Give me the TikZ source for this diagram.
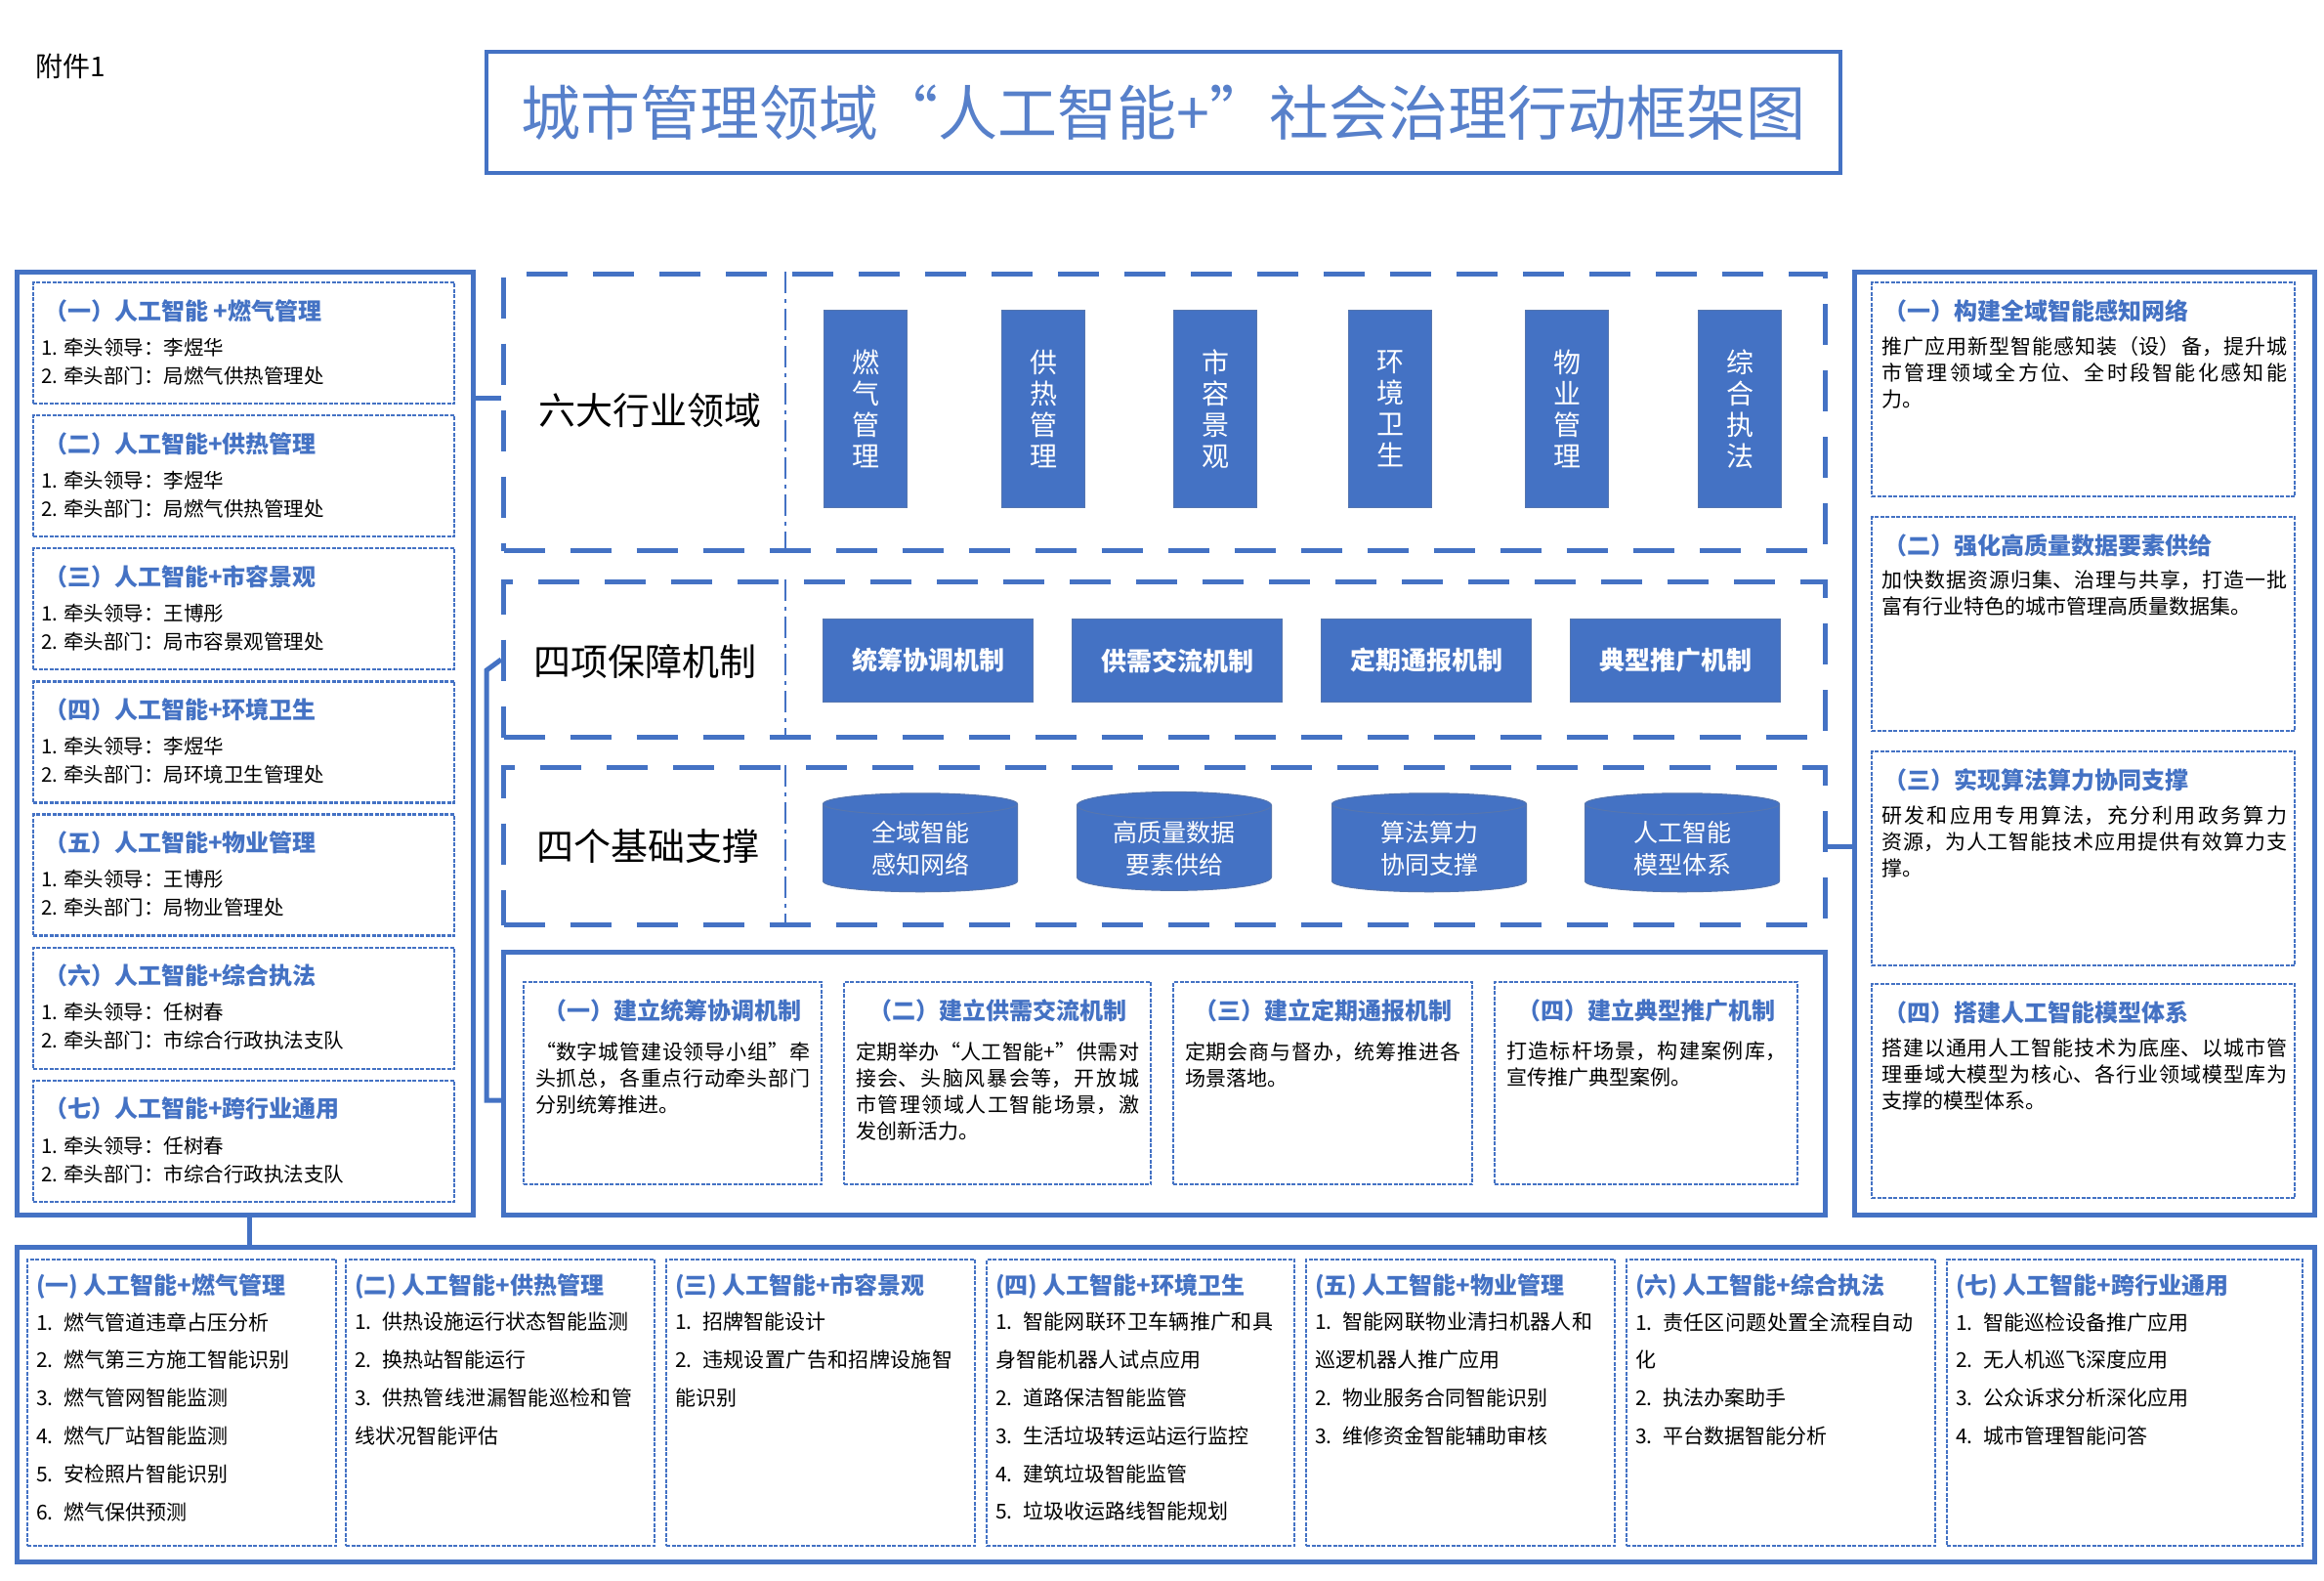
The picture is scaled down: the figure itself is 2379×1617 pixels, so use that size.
\documentclass[tikz,border=0pt]{standalone}
\usepackage{fontspec}
\setmainfont{Noto Sans CJK SC}
\XeTeXlinebreaklocale "zh"
\XeTeXlinebreakskip=0pt plus 1pt
\usetikzlibrary{shapes.geometric}
\definecolor{bl}{HTML}{4472C4}
\begin{document}
\begin{tikzpicture}[x=1pt,y=-1pt,
 outer/.style={draw=bl,line width=5pt},
 bigdash/.style={draw=bl,line width=5pt,dash pattern=on 42pt off 26pt},
 fdash/.style={draw=bl,line width=2.2pt,dash pattern=on 4pt off 1.5pt},
 vrect/.style={fill=bl,draw=bl!70!gray,line width=1pt,minimum width=85pt,minimum height=202pt,text=white,font=\fontsize{28}{32}\selectfont,align=center,inner sep=0pt},
 hrect/.style={fill=bl,draw=bl!70!gray,line width=1pt,minimum width=215pt,minimum height=85pt,text=white,font=\fontsize{26}{30}\selectfont\bfseries,inner sep=0pt},
 cyl/.style={cylinder,shape border rotate=90,aspect=0.22,fill=bl,draw=bl!70!gray,line width=1pt,minimum width=199pt,minimum height=101pt,text=white,font=\fontsize{25}{33}\selectfont,align=center,inner sep=0pt},
 secl/.style={font=\fontsize{38}{40}\selectfont},
 ttl/.style={text=bl,font=\fontsize{24}{28}\selectfont\bfseries},
 bod/.style={font=\fontsize{20.5}{29}\selectfont,align=left,inner sep=0pt},
 rbod/.style={font=\fontsize{21}{27}\selectfont,align=justify,inner sep=0pt,text width=415pt},
 mbod/.style={font=\fontsize{21}{27}\selectfont,align=justify,inner sep=0pt},
 cbod/.style={font=\fontsize{21}{38.8}\selectfont,align=left,inner sep=0pt},
]
\useasboundingbox[fill=white] (0,0) rectangle (2379,1617);
\node[anchor=west,font=\fontsize{28}{30}\selectfont,inner sep=0pt] (fj) at (36,68) {附件1};
\node[draw=bl,line width=4.5pt,minimum width=1386pt,minimum height=124pt,text=bl!90!white,font=\fontsize{61}{64}\selectfont] (title) at (1191,115) {城市管理领域“人工智能+”社会治理行动框架图};

% left
\node[outer,minimum width=467pt,minimum height=965pt,anchor=north west] (L) at (15,276) {};
\foreach \i/\t/\a/\b in {0/（一）人工智能 +燃气管理/李煜华/局燃气供热管理处,1/（二）人工智能+供热管理/李煜华/局燃气供热管理处,2/（三）人工智能+市容景观/王博彤/局市容景观管理处,3/（四）人工智能+环境卫生/李煜华/局环境卫生管理处,4/（五）人工智能+物业管理/王博彤/局物业管理处,5/（六）人工智能+综合执法/任树春/市综合行政执法支队,6/（七）人工智能+跨行业通用/任树春/市综合行政执法支队}{
 \pgfmathsetmacro\yy{288+\i*136.1}
 \node[fdash,minimum width=431pt,minimum height=124pt,anchor=north west] (l\i) at (33,\yy) {};
 \node[ttl,anchor=west,inner sep=0pt] (lt\i) at (45,\yy+30) {\t};
 \node[bod,anchor=north west] (lb\i) at (42,\yy+58) {1. 牵头领导：\a\\2. 牵头部门：\b};
}

% six
\node[bigdash,minimum width=1353pt,minimum height=283pt,anchor=north west] (six) at (513,278) {};
\draw[draw=bl,line width=2.5pt,dash pattern=on 22pt off 6pt on 4pt off 6pt] (six.north west -| 804,0) coordinate (d1) -- (six.south west -| 804,0) coordinate (d2);
\node[secl] (sixl) at (665,420) {六大行业领域};
\foreach \x/\t [count=\k] in {843/燃\\气\\管\\理,1025/供\\热\\管\\理,1201/市\\容\\景\\观,1380/环\\境\\卫\\生,1561/物\\业\\管\\理,1738/综\\合\\执\\法}
 \node[vrect,anchor=north west] (v\k) at (\x,317) {\t};

% four
\node[bigdash,minimum width=1353pt,minimum height=159pt,anchor=north west] (four) at (513,593) {};
\draw[draw=bl,line width=2.5pt,dash pattern=on 22pt off 6pt on 4pt off 6pt] (four.north west -| 804,0) -- (four.south west -| 804,0);
\node[secl] (fourl) at (660,677) {四项保障机制};
\foreach \x/\t [count=\k] in {842/统筹协调机制,1097/供需交流机制,1352/定期通报机制,1607/典型推广机制}
 \node[hrect,anchor=north west] (h\k) at (\x,633) {\t};

% base
\node[bigdash,minimum width=1353pt,minimum height=161pt,anchor=north west] (base) at (513,783) {};
\draw[draw=bl,line width=2.5pt,dash pattern=on 22pt off 6pt on 4pt off 6pt] (base.north west -| 804,0) -- (base.south west -| 804,0);
\node[secl] (basel) at (663,866) {四个基础支撑};
\foreach \x/\t [count=\k] in {942/全域智能\\感知网络,1202/高质量数据\\要素供给,1463/算法算力\\协同支撑,1722/人工智能\\模型体系}
 \node[cyl] (c\k) at (\x,868) {\t};

% mechanism
\node[outer,minimum width=1353pt,minimum height=269pt,anchor=north west] (mech) at (513,972) {};
\foreach \x/\w/\t/\b [count=\k] in {535/305/（一）建立统筹协调机制/“数字城管建设领导小组”牵头抓总，各重点行动牵头部门分别统筹推进。,863/314/（二）建立供需交流机制/定期举办“人工智能+”供需对接会、头脑风暴会等，开放城市管理领域人工智能场景，激发创新活力。,1200/306/（三）建立定期通报机制/定期会商与督办，统筹推进各场景落地。,1529/310/（四）建立典型推广机制/打造标杆场景，构建案例库，宣传推广典型案例。}{
 \pgfmathsetmacro\tw{\w-24}
 \node[fdash,minimum width=\w pt,minimum height=207pt,anchor=north west] (m\k) at (\x,1004) {};
 \node[ttl,anchor=north,inner sep=0pt] (mt\k) at ([yshift=-18pt]m\k.north) {\t};
 \node[mbod,text width=\tw pt,anchor=north] (mb\k) at ([yshift=-62pt]m\k.north) {\b};
}

% right
\node[outer,minimum width=471pt,minimum height=965pt,anchor=north west] (R) at (1896,276) {};
\foreach \y/\t/\b [count=\k] in {288/（一）构建全域智能感知网络/推广应用新型智能感知装（设）备，提升城市管理领域全方位、全时段智能化感知能力。,528/（二）强化高质量数据要素供给/加快数据资源归集、治理与共享，打造一批富有行业特色的城市管理高质量数据集。,768/（三）实现算法算力协同支撑/研发和应用专用算法，充分利用政务算力资源，为人工智能技术应用提供有效算力支撑。,1006/（四）搭建人工智能模型体系/搭建以通用人工智能技术为底座、以城市管理垂域大模型为核心、各行业领域模型库为支撑的模型体系。}{
 \node[fdash,minimum width=433pt,minimum height=219pt,anchor=north west] (r\k) at (1915,\y) {};
 \node[ttl,anchor=west,inner sep=0pt] (rt\k) at (1928,\y+30) {\t};
 \node[rbod,anchor=north west] (rb\k) at (1926,\y+56) {\b};
}

% bottom
\node[outer,minimum width=2352pt,minimum height=322pt,anchor=north west] (B) at (15,1274) {};
\foreach \x/\w/\t/\b [count=\k] in {
27/316/(一) 人工智能+燃气管理/{1. 燃气管道违章占压分析\\2. 燃气第三方施工智能识别\\3. 燃气管网智能监测\\4. 燃气厂站智能监测\\5. 安检照片智能识别\\6. 燃气保供预测},
353/316/(二) 人工智能+供热管理/{1. 供热设施运行状态智能监测\\2. 换热站智能运行\\3. 供热管线泄漏智能巡检和管线状况智能评估},
681/316/(三) 人工智能+市容景观/{1. 招牌智能设计\\2. 违规设置广告和招牌设施智能识别},
1009/315/(四) 人工智能+环境卫生/{1. 智能网联环卫车辆推广和具身智能机器人试点应用\\2. 道路保洁智能监管\\3. 生活垃圾转运站运行监控\\4. 建筑垃圾智能监管\\5. 垃圾收运路线智能规划},
1336/316/(五) 人工智能+物业管理/{1. 智能网联物业清扫机器人和巡逻机器人推广应用\\2. 物业服务合同智能识别\\3. 维修资金智能辅助审核},
1664/316/(六) 人工智能+综合执法/{1. 责任区问题处置全流程自动化\\2. 执法办案助手\\3. 平台数据智能分析},
1992/364/(七) 人工智能+跨行业通用/{1. 智能巡检设备推广应用\\2. 无人机巡飞深度应用\\3. 公众诉求分析深化应用\\4. 城市管理智能问答}}{
 \node[fdash,minimum width=\w pt,minimum height=293pt,anchor=north west] (b\k) at (\x,1288) {};
 \node[ttl,anchor=west,inner sep=0pt] (bt\k) at (\x+10,1317) {\t};
 \node[cbod,text width=300pt,anchor=north west] (bb\k) at (\x+10,1343) {\b};
}

% connectors
\draw[bl,line width=5pt] (L.east |- 0,407) coordinate (p1) -- (six.west |- p1);
\draw[bl,line width=5pt] (four.west) -- (498,686) coordinate (p2) -- (498,1126) coordinate (p3) -- (mech.west |- p3);
\draw[bl,line width=5pt] (base.east |- 0,866) coordinate (p4) -- (R.west |- p4);
\draw[bl,line width=5pt] (L.south -| 255,0) coordinate (p5) -- (B.north -| p5);
\end{tikzpicture}
\end{document}
